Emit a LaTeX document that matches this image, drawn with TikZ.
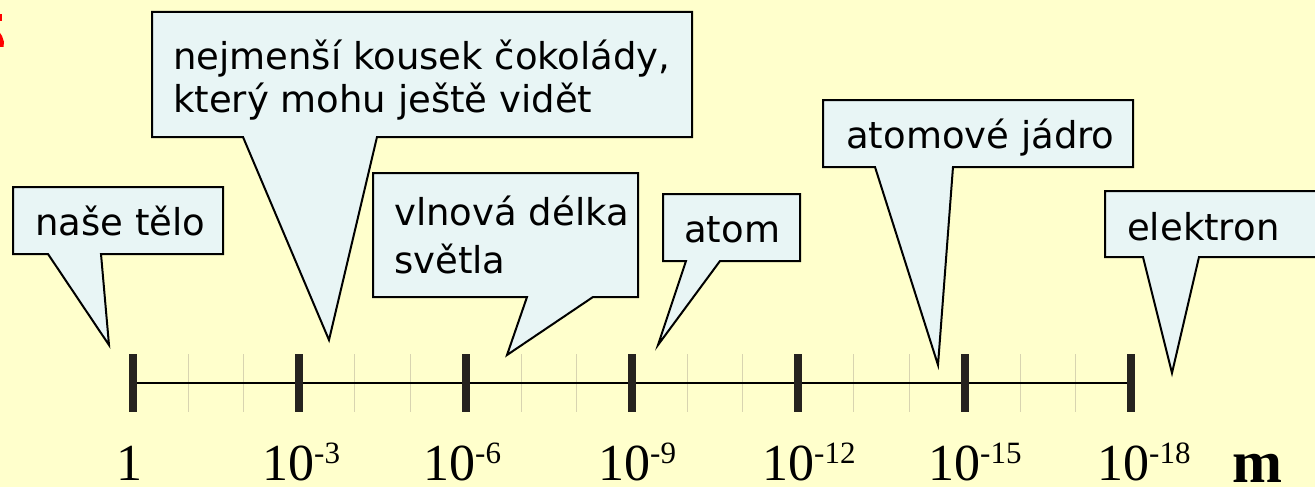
\documentclass[tikz,border=0pt]{standalone}
\usepackage{fontspec}
\setmainfont{Liberation Serif}
\newfontfamily\callfont{DejaVu Sans}
\definecolor{bgyellow}{HTML}{FFFFCC}
\definecolor{callfill}{HTML}{E8F5F5}
\definecolor{tickdark}{HTML}{26231F}
\definecolor{ticklight}{HTML}{D8D4B0}
\newcommand\myexp[1]{10\raisebox{17pt}{\fontsize{31pt}{31pt}\selectfont #1}}
\tikzset{
  callout/.style={draw=black, line width=2pt, fill=callfill, line join=miter},
  calltext/.style={anchor=base west, inner sep=0pt, font=\callfont\fontsize{37pt}{44pt}\selectfont},
  axlabel/.style={anchor=base west, inner sep=0pt, text depth=0pt, font=\fontsize{52pt}{52pt}\selectfont},
  majortick/.style={fill=tickdark},
  minortick/.style={draw=ticklight, line width=1pt},
}
\begin{document}
\begin{tikzpicture}[x=1pt,y=-1pt]
\useasboundingbox (0,0) rectangle (1315,487);
\fill[bgyellow] (0,0) rectangle (1315,487);
% red fragment at the left edge
\fill[red] (0,14) rectangle (1.5,21);
\fill[red] (0,33) -- (2,36) -- (4,42) -- (3.5,47) -- (0,47) -- cycle;

% axis
\coordinate (axL) at (133,383);
\coordinate (axR) at (1131,383);
\foreach \i in {0,...,5}{
  \foreach \k in {1,2}{
    \draw[minortick] ({133+166.33*\i+55.44*\k},354) -- ({133+166.33*\i+55.44*\k},412);
  }
}
\draw[line width=1.5pt] (axL) -- (axR);
\foreach \i in {0,...,6}{
  \fill[majortick] ({133+166.33*\i-4},354) rectangle ({133+166.33*\i+4},412);
}

% axis labels
\node[axlabel] (l0) at (116,480) {1};
\node[axlabel] (l3) at (262,480) {\myexp{-3}};
\node[axlabel] (l6) at (423,480) {\myexp{-6}};
\node[axlabel] (l9) at (598,480) {\myexp{-9}};
\node[axlabel] (l12) at (762,480) {\myexp{-12}};
\node[axlabel] (l15) at (928,480) {\myexp{-15}};
\node[axlabel] (l18) at (1097,480) {\myexp{-18}};
\node[anchor=base west, inner sep=0pt, text depth=0pt, font=\bfseries\fontsize{60pt}{60pt}\selectfont] (unit) at (1232,482) {m};

% callouts
\draw[callout] (13,187) -- (223,187) -- (223,254) -- (101,254) -- (109,345) -- (48,254) -- (13,254) -- cycle;
\node[calltext] (telo) at (35,235) {naše tělo};

\draw[callout] (152,12) -- (692,12) -- (692,137) -- (377,137) -- (329,340) -- (243,137) -- (152,137) -- cycle;
\node[calltext] (cok1) at (173,70) {nejmenší kousek čokolády,};
\node[calltext] (cok2) at (173,113) {který mohu ještě vidět};

\draw[callout] (373,173) -- (638,173) -- (638,297) -- (593,297) -- (507,355) -- (527,297) -- (373,297) -- cycle;
\node[calltext] (vln1) at (394,225) {vlnová délka};
\node[calltext] (vln2) at (394,273) {světla};

\draw[callout] (663,194) -- (800,194) -- (800,261) -- (720,261) -- (658,345) -- (686,261) -- (663,261) -- cycle;
\node[calltext] (atom) at (684,242) {atom};

\draw[callout] (823,100) -- (1133,100) -- (1133,167) -- (953,167) -- (938,365) -- (875,167) -- (823,167) -- cycle;
\node[calltext] (jadro) at (846,148) {atomové jádro};

\draw[callout] (1105,191) -- (1330,191) -- (1330,257) -- (1199,257) -- (1172,373) -- (1143,257) -- (1105,257) -- cycle;
\node[calltext] (elek) at (1127,240) {elektron};
\end{tikzpicture}
\end{document}
